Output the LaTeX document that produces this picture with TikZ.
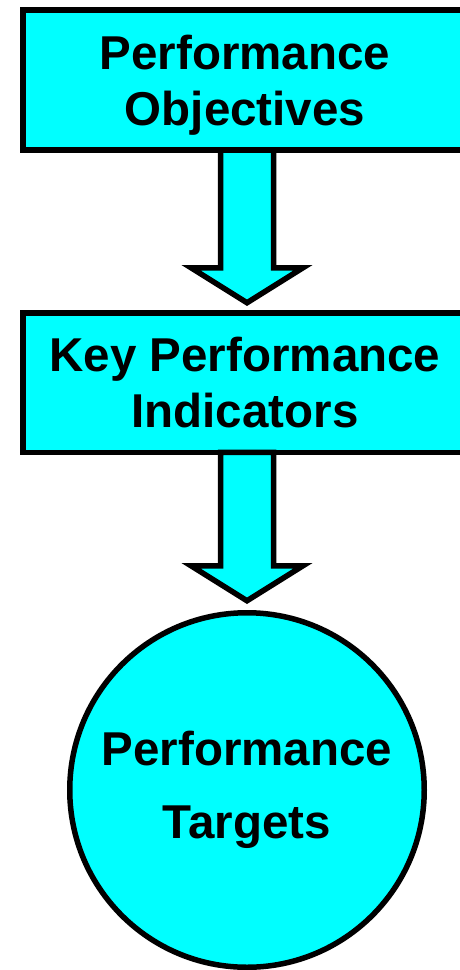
\documentclass[tikz,border=0pt]{standalone}
\usepackage{fontspec}
\setmainfont{Liberation Sans}
\usetikzlibrary{calc}
\definecolor{aqua}{HTML}{00FFFF}
\tikzset{
  stagebox/.style={draw=black, fill=aqua, line width=5.5pt, rectangle, inner sep=0pt, outer sep=0pt,
    align=center, font=\fontsize{47.5}{56}\selectfont\bfseries},
  targetcircle/.style={draw=black, fill=aqua, line width=5.5pt, circle, inner sep=0pt, outer sep=0pt,
    minimum size=354.5pt, align=center, font=\fontsize{47.5}{73}\selectfont\bfseries},
  fatarrow/.style={draw=black, fill=aqua, line width=5.5pt, line join=miter}
}
\newcommand{\fatarrowpath}[2]{%
  \draw[fatarrow] ($(#1)+(-26.5,0)$) -- ($(#2)+(-26.5,-35)$) -- ($(#2)+(-56,-35)$) -- (#2)
    -- ($(#2)+(56,-35)$) -- ($(#2)+(26.5,-35)$) -- ($(#1)+(26.5,0)$) -- cycle;}
\begin{document}
\begin{tikzpicture}[x=1pt, y=-1pt]
\useasboundingbox (0,0) rectangle (460,970);
\node[stagebox, minimum width=444.5pt, minimum height=140pt] (obj) at (245,80)
  {Performance\\\raisebox{0pt}[\height][0pt]{Objectives}};
\node[stagebox, minimum width=444.5pt, minimum height=139.5pt] (kpi) at (245,382.5)
  {Key Performance\\Indicators};
\node[targetcircle] (tgt) at (247,790) {Performance\\Targets};
\coordinate (a1top) at ($(obj.south)+(2,0)$);
\coordinate (a1tip) at ($(kpi.north)+(2,-10)$);
\coordinate (a2top) at ($(kpi.south)+(2,0)$);
\coordinate (a2tip) at ($(tgt.north)+(0,-12)$);
\fatarrowpath{a1top}{a1tip}
\fatarrowpath{a2top}{a2tip}
\end{tikzpicture}
\end{document}
